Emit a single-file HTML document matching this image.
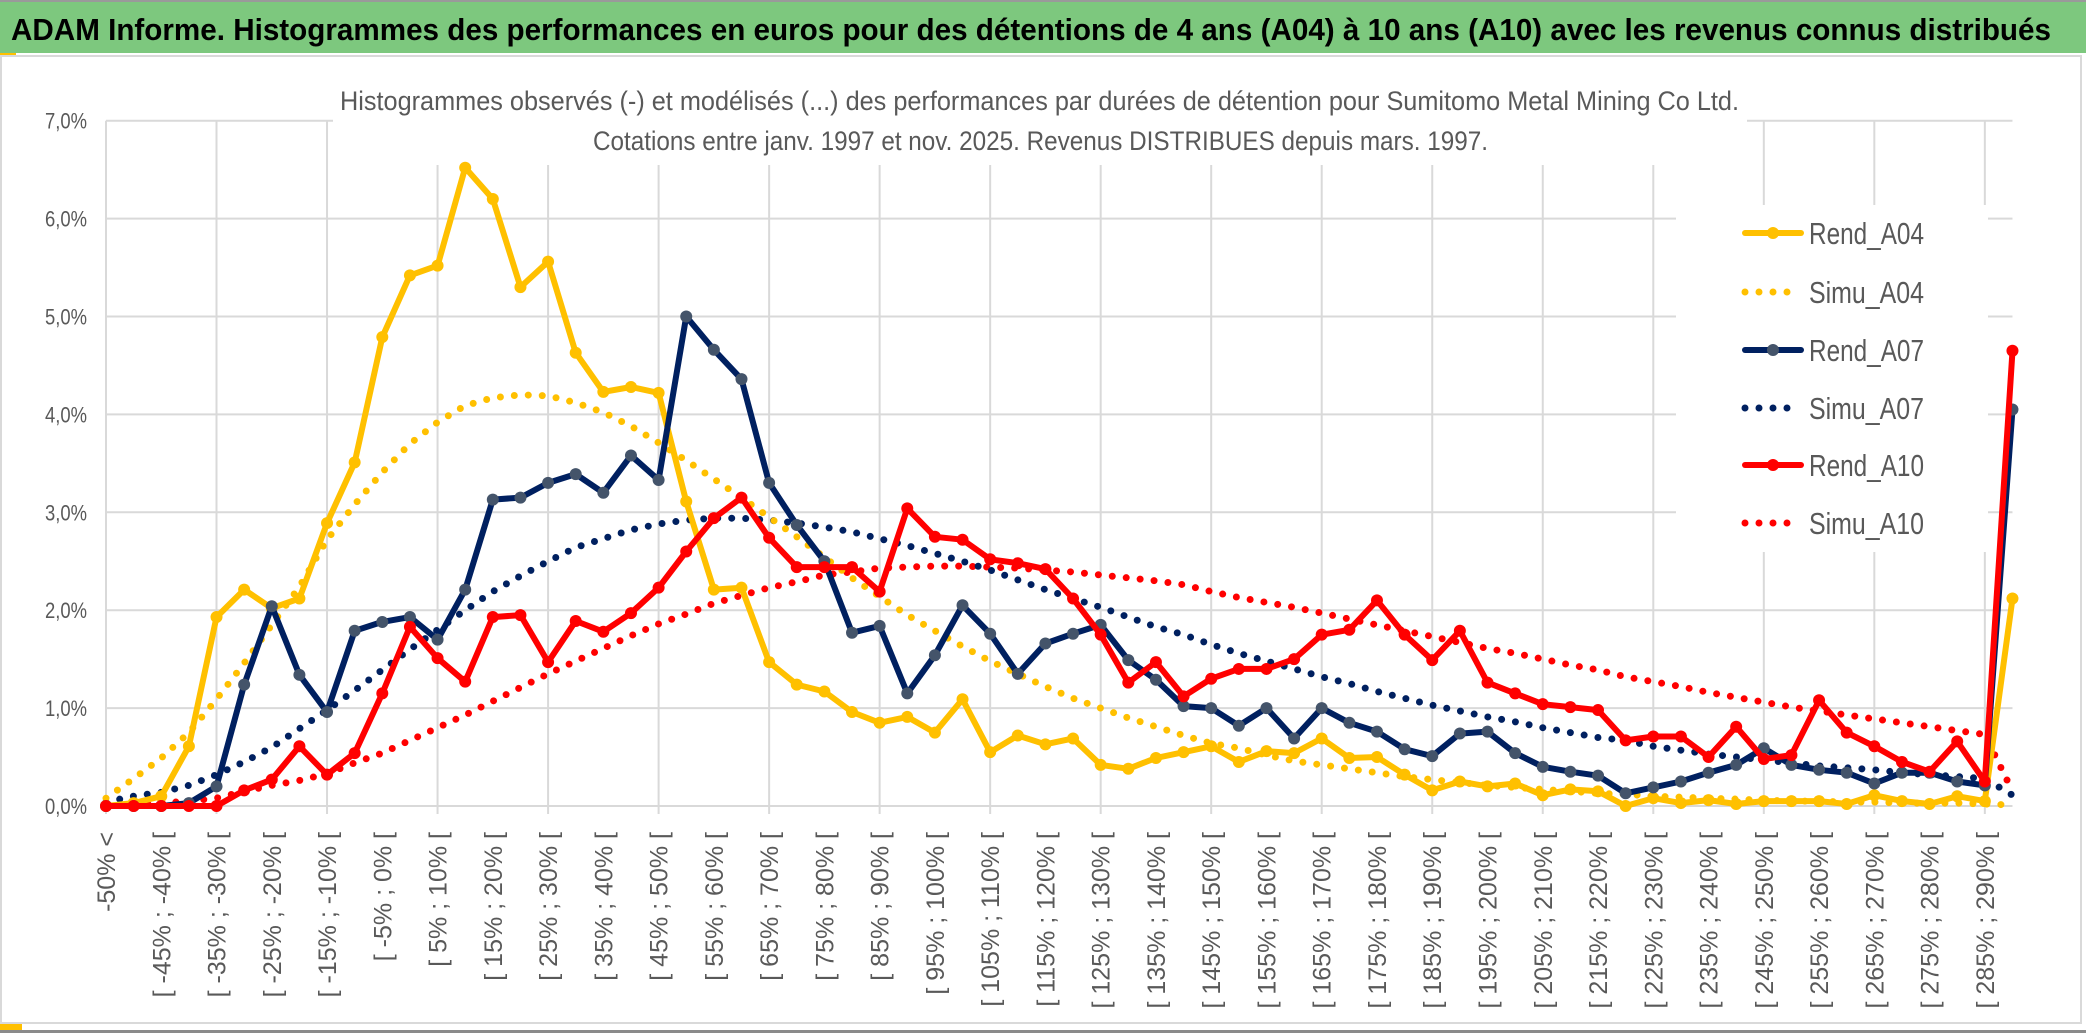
<!DOCTYPE html>
<html><head><meta charset="utf-8"><title>ADAM Informe</title>
<style>html,body{margin:0;padding:0;background:#fff;}svg{display:block;}text{font-family:"Liberation Sans",sans-serif;}</style>
</head><body>
<svg id="chart" width="2086" height="1033" viewBox="0 0 2086 1033" xmlns="http://www.w3.org/2000/svg">
<rect x="0" y="0" width="2086" height="1033" fill="#fff"/>
<rect x="0" y="0" width="2086" height="2" fill="#9a9a9a"/>
<rect x="0" y="2" width="2086" height="51" fill="#7dc87e"/>
<text x="11" y="40" font-size="31" font-weight="bold" fill="#000" textLength="2040" lengthAdjust="spacingAndGlyphs">ADAM Informe. Histogrammes des performances en euros pour des détentions de 4 ans (A04) à 10 ans (A10) avec les revenus connus distribués</text>
<rect x="0" y="53" width="16" height="3" fill="#ffc000"/>
<rect x="1" y="56" width="2080" height="967" fill="none" stroke="#d9d9d9" stroke-width="2"/>
<rect x="0" y="1024" width="22" height="6" fill="#ffc000"/>
<rect x="0" y="1030" width="2086" height="3" fill="#8a8a8a"/>
<g id="grid"></g>
<rect x="333" y="60" width="1414" height="105" fill="#fff"/>
<text x="340" y="110" font-size="27" fill="#595959" textLength="1399" lengthAdjust="spacingAndGlyphs">Histogrammes observés (-) et modélisés (...) des performances par durées de détention pour Sumitomo Metal Mining Co Ltd.</text>
<text x="593" y="150" font-size="27" fill="#595959" textLength="895" lengthAdjust="spacingAndGlyphs">Cotations entre janv. 1997 et nov. 2025. Revenus DISTRIBUES depuis mars. 1997.</text>
<g id="yticks"></g>
<g id="xticks"></g>
<g id="series"></g>
<g id="legend"></g>
</svg>
<script>
const categories = ["-50% <","[ -50% ; -45% [","[ -45% ; -40% [","[ -40% ; -35% [","[ -35% ; -30% [","[ -30% ; -25% [","[ -25% ; -20% [","[ -20% ; -15% [","[ -15% ; -10% [","[ -10% ; -5% [","[ -5% ; 0% [","[ 0% ; 5% [","[ 5% ; 10% [","[ 10% ; 15% [","[ 15% ; 20% [","[ 20% ; 25% [","[ 25% ; 30% [","[ 30% ; 35% [","[ 35% ; 40% [","[ 40% ; 45% [","[ 45% ; 50% [","[ 50% ; 55% [","[ 55% ; 60% [","[ 60% ; 65% [","[ 65% ; 70% [","[ 70% ; 75% [","[ 75% ; 80% [","[ 80% ; 85% [","[ 85% ; 90% [","[ 90% ; 95% [","[ 95% ; 100% [","[ 100% ; 105% [","[ 105% ; 110% [","[ 110% ; 115% [","[ 115% ; 120% [","[ 120% ; 125% [","[ 125% ; 130% [","[ 130% ; 135% [","[ 135% ; 140% [","[ 140% ; 145% [","[ 145% ; 150% [","[ 150% ; 155% [","[ 155% ; 160% [","[ 160% ; 165% [","[ 165% ; 170% [","[ 170% ; 175% [","[ 175% ; 180% [","[ 180% ; 185% [","[ 185% ; 190% [","[ 190% ; 195% [","[ 195% ; 200% [","[ 200% ; 205% [","[ 205% ; 210% [","[ 210% ; 215% [","[ 215% ; 220% [","[ 220% ; 225% [","[ 225% ; 230% [","[ 230% ; 235% [","[ 235% ; 240% [","[ 240% ; 245% [","[ 245% ; 250% [","[ 250% ; 255% [","[ 255% ; 260% [","[ 260% ; 265% [","[ 265% ; 270% [","[ 270% ; 275% [","[ 275% ; 280% [","[ 280% ; 285% [","[ 285% ; 290% [","> 290%"];
const yTicks = [0,1,2,3,4,5,6,7];
const yTickLabels = ["0,0%","1,0%","2,0%","3,0%","4,0%","5,0%","6,0%","7,0%"];
const rendA04 = [0,0.03,0.1,0.61,1.93,2.21,2.02,2.12,2.89,3.51,4.79,5.42,5.52,6.52,6.2,5.3,5.56,4.63,4.23,4.28,4.22,3.11,2.21,2.23,1.47,1.24,1.17,0.96,0.85,0.91,0.75,1.09,0.55,0.72,0.63,0.69,0.42,0.38,0.49,0.55,0.61,0.45,0.56,0.54,0.69,0.49,0.5,0.32,0.16,0.25,0.2,0.23,0.11,0.17,0.15,0,0.08,0.03,0.06,0.02,0.05,0.05,0.05,0.02,0.11,0.05,0.02,0.1,0.05,2.12];
const simuA04 = [0.08,0.28,0.49,0.75,1.09,1.46,1.85,2.24,2.72,3.08,3.41,3.7,3.92,4.09,4.17,4.2,4.19,4.12,4.02,3.88,3.71,3.53,3.34,3.15,2.95,2.75,2.54,2.33,2.14,1.95,1.79,1.63,1.48,1.35,1.22,1.1,1.0,0.9,0.81,0.72,0.64,0.59,0.52,0.46,0.42,0.38,0.34,0.3,0.27,0.24,0.21,0.19,0.17,0.15,0.13,0.12,0.1,0.09,0.08,0.07,0.06,0.05,0.05,0.04,0.04,0.03,0.03,0.03,0.02,0.01];
const rendA07 = [0,0,0,0.03,0.2,1.24,2.04,1.34,0.96,1.79,1.88,1.93,1.7,2.21,3.13,3.15,3.3,3.39,3.2,3.58,3.33,5.0,4.66,4.36,3.3,2.87,2.5,1.77,1.84,1.15,1.54,2.05,1.76,1.35,1.66,1.76,1.85,1.49,1.29,1.02,1.0,0.82,1.0,0.69,1.0,0.85,0.76,0.58,0.51,0.74,0.76,0.54,0.4,0.35,0.31,0.13,0.19,0.25,0.34,0.42,0.59,0.42,0.37,0.34,0.23,0.34,0.34,0.25,0.21,4.05];
const simuA07 = [0.04,0.1,0.14,0.21,0.32,0.45,0.6,0.79,0.98,1.18,1.39,1.6,1.8,2.0,2.19,2.35,2.5,2.64,2.73,2.82,2.88,2.92,2.94,2.94,2.92,2.89,2.85,2.8,2.73,2.66,2.58,2.5,2.41,2.31,2.21,2.12,2.03,1.93,1.83,1.75,1.65,1.56,1.48,1.4,1.32,1.25,1.17,1.1,1.03,0.97,0.91,0.86,0.8,0.75,0.7,0.67,0.61,0.57,0.53,0.5,0.47,0.44,0.41,0.39,0.37,0.34,0.32,0.3,0.28,0.11];
const rendA10 = [0,0,0,0,0,0.16,0.27,0.61,0.32,0.54,1.15,1.83,1.51,1.27,1.93,1.95,1.47,1.89,1.78,1.97,2.23,2.6,2.94,3.15,2.74,2.44,2.44,2.44,2.19,3.04,2.75,2.72,2.52,2.48,2.42,2.12,1.75,1.26,1.47,1.12,1.3,1.4,1.4,1.5,1.75,1.8,2.1,1.75,1.49,1.79,1.26,1.15,1.04,1.01,0.98,0.67,0.71,0.71,0.5,0.81,0.48,0.52,1.08,0.75,0.61,0.45,0.35,0.66,0.25,4.65];
const simuA10 = [0,0.01,0.03,0.05,0.08,0.15,0.21,0.26,0.33,0.44,0.54,0.67,0.8,0.93,1.07,1.21,1.35,1.48,1.61,1.74,1.86,1.96,2.07,2.15,2.23,2.29,2.36,2.39,2.43,2.44,2.45,2.45,2.44,2.43,2.41,2.39,2.36,2.33,2.3,2.26,2.19,2.13,2.08,2.03,1.97,1.91,1.85,1.79,1.73,1.67,1.61,1.56,1.5,1.44,1.39,1.32,1.27,1.22,1.16,1.11,1.06,1.01,0.97,0.93,0.89,0.85,0.81,0.77,0.73,0.15];
const seriesNames = ["Rend_A04","Simu_A04","Rend_A07","Simu_A07","Rend_A10","Simu_A10"];

const NS = "http://www.w3.org/2000/svg";
const X0 = 106, STEP = 27.63, Y0 = 806, PER = 97.9;
function xScale(i){ return X0 + i*STEP; }
function yScale(v){ return Y0 - v*PER; }
function mk(tag, attrs, parent){ const e=document.createElementNS(NS,tag); for(const k in attrs) e.setAttribute(k,attrs[k]); parent.appendChild(e); return e; }

const grid = document.getElementById('grid');
yTicks.forEach(function(t){
  const l = mk('line',{x1:X0,x2:xScale(categories.length-1),y1:yScale(t),y2:yScale(t),stroke:'#d9d9d9','stroke-width':2},grid);
  
  
});
for(let i=0;i<categories.length;i+=4){
  const l = mk('line',{x1:xScale(i),x2:xScale(i),y1:yScale(7),y2:Y0+8,stroke:'#d9d9d9','stroke-width':2},grid);
  
  
}

const yt = document.getElementById('yticks');
yTicks.forEach(function(t,k){
  const tx = mk('text',{x:87,y:yScale(t)+8,'font-size':22,fill:'#595959','text-anchor':'end',textLength:42,lengthAdjust:'spacingAndGlyphs'},yt);
  tx.textContent = yTickLabels[k];
  
  
});

const xt = document.getElementById('xticks');
for(let i=0;i<categories.length-1;i+=2){
  const x = xScale(i)+9, y = 832;
  const tx = mk('text',{x:x,y:y,'font-size':25,fill:'#595959','text-anchor':'end',transform:'rotate(-90 '+x+' '+y+')'},xt);
  tx.textContent = categories[i];
  
  
}

const sg = document.getElementById('series');
function pts(vals){ return vals.map(function(v,i){return xScale(i).toFixed(1)+','+yScale(v).toFixed(1);}).join(' '); }
function dotted(vals,color,name){
  const p = mk('polyline',{points:pts(vals),fill:'none',stroke:color,'stroke-width':7,'stroke-linecap':'round','stroke-dasharray':'0 14'},sg);
  
  
}
function solid(vals,color,marker,name){
  const g = mk('g',{},sg);
  
  
  const p = mk('polyline',{points:pts(vals),fill:'none',stroke:color,'stroke-width':6,'stroke-linejoin':'round'},g);
  
  
  vals.forEach(function(v,i){
    const c = mk('circle',{cx:xScale(i),cy:yScale(v),r:6,fill:marker},g);
    
    
  });
}
dotted(simuA10,'#ff0000','simu-a10-line');
dotted(simuA07,'#002060','simu-a07-line');
dotted(simuA04,'#ffc000','simu-a04-line');
solid(rendA04,'#ffc000','#ffc000','rend-a04-series');
solid(rendA07,'#002060','#44546a','rend-a07-series');
solid(rendA10,'#ff0000','#ff0000','rend-a10-series');

const lg = document.getElementById('legend');
const bg = mk('rect',{x:1676,y:205,width:312,height:347,fill:'#fff'},lg);


const legColors = ['#ffc000','#ffc000','#002060','#002060','#ff0000','#ff0000'];
const legMarkers = ['#ffc000',null,'#44546a',null,'#ff0000',null];
const legY = [233,292,350,408,465,523];
seriesNames.forEach(function(n,k){
  const g = mk('g',{},lg);
  
  
  const y = legY[k];
  if(legMarkers[k]){
    mk('line',{x1:1745,x2:1801,y1:y,y2:y,stroke:legColors[k],'stroke-width':6,'stroke-linecap':'round'},g);
    mk('circle',{cx:1773,cy:y,r:6,fill:legMarkers[k]},g);
  } else {
    mk('line',{x1:1745,x2:1801,y1:y,y2:y,stroke:legColors[k],'stroke-width':7,'stroke-linecap':'round','stroke-dasharray':'0 14'},g);
  }
  const t = mk('text',{x:1809,y:y+11,'font-size':31,fill:'#595959',textLength:115,lengthAdjust:'spacingAndGlyphs'},g);
  t.textContent = n;
});
</script>
</body></html>
